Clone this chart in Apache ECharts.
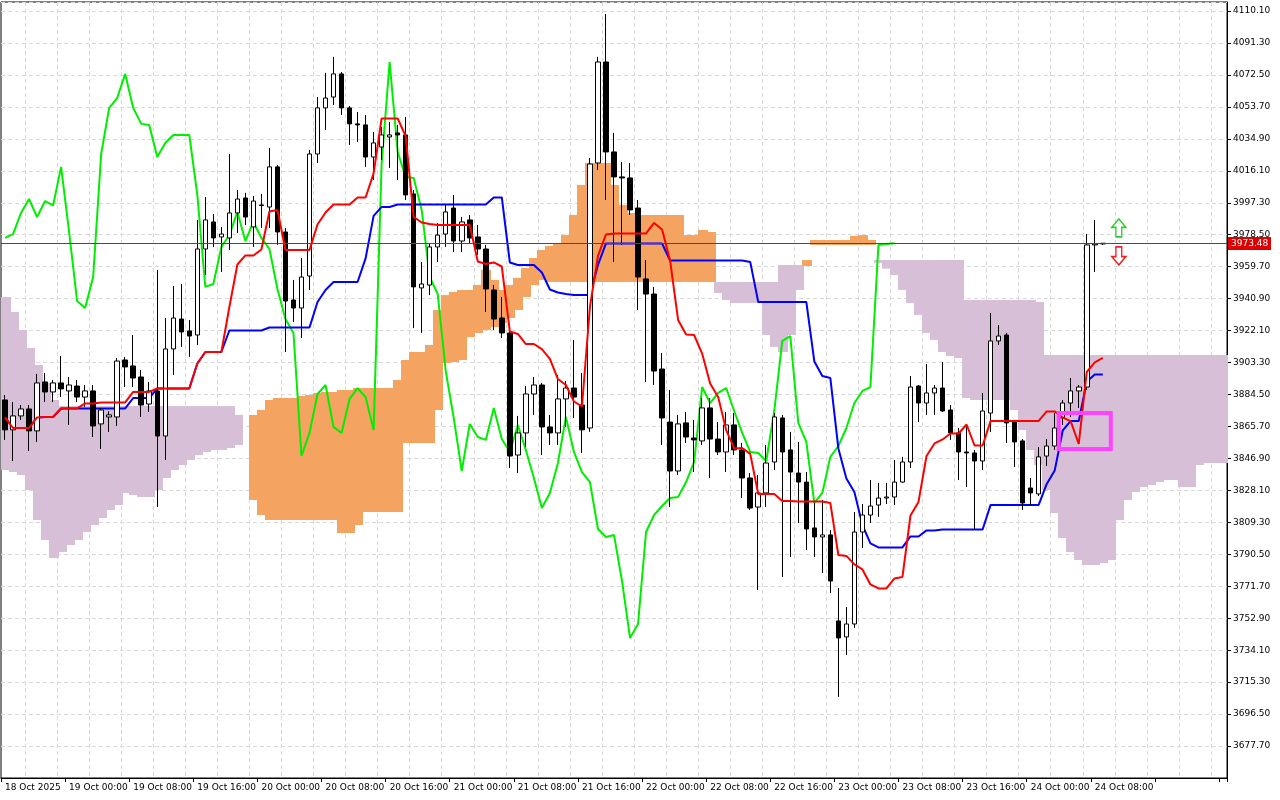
<!DOCTYPE html>
<html><head><meta charset="utf-8">
<script src="https://cdn.jsdelivr.net/npm/echarts@6/dist/echarts.min.js"></script>
<style>html,body{margin:0;padding:0;background:#fff}#c{width:1280px;height:800px}</style>
</head><body><div id="c"></div>
<script>
const tickLabels = ['18 Oct 2025','19 Oct 00:00','19 Oct 08:00','19 Oct 16:00','20 Oct 00:00','20 Oct 08:00','20 Oct 16:00','21 Oct 00:00','21 Oct 08:00','21 Oct 16:00','22 Oct 00:00','22 Oct 08:00','22 Oct 16:00','23 Oct 00:00','23 Oct 08:00','23 Oct 16:00','24 Oct 00:00','24 Oct 08:00'];
const opens = [3881.3,3863.7,3871.9,3876.0,3863.1,3891.9,3886.0,3891.3,3886.6,3889.5,
3883.0,3886.6,3867.2,3871.3,3871.3,3904.8,3901.3,3894.8,3878.9,3886.6,
3860.1,3911.3,3928.9,3921.9,3919.5,3970.1,3986.0,3977.2,3976.6,3991.3,
4000.1,3983.1,3996.0,3994.8,4018.4,3980.1,3940.1,3935.4,3954.2,4026.0,
4053.1,4059.5,4073.1,4053.1,4043.7,4043.1,4024.2,4030.1,4036.0,4038.4,
4037.2,4002.5,3947.2,3948.9,3971.3,3978.9,3994.2,3974.8,3987.2,3977.2,
3970.1,3946.0,3929.5,3920.7,3848.9,3861.9,3884.8,3890.1,3865.4,3861.9,
3881.9,3888.3,3878.3,3864.8,4020.7,4080.1,4027.2,4012.5,4011.9,3994.2,
3952.5,3943.6,3899.5,3868.3,3839.5,3867.8,3858.9,3857.2,3876.6,3858.3,
3850.7,3866.6,3851.9,3835.4,3818.3,3826.6,3844.8,3870.7,3851.9,3838.3,
3833.0,3806.0,3800.7,3801.9,3751.3,3741.9,3749.5,3803.6,3813.6,3819.5,
3823.6,3824.2,3833.0,3844.8,3889.5,3879.5,3885.4,3888.3,3875.4,3861.9,
3850.7,3850.1,3845.4,3873.6,3916.0,3919.5,3868.3,3857.2,3829.5,3826.0,
3848.3,3854.2,3870.7,3879.5,3886.6,3888.9,3972.5,3973.1];
const closes = [3863.7,3871.9,3876.0,3863.1,3891.3,3886.0,3891.3,3887.8,3890.1,3883.0,
3886.6,3866.0,3875.4,3872.5,3904.2,3900.7,3894.2,3878.3,3886.6,3860.1,
3911.3,3929.5,3921.3,3918.9,3970.1,3987.2,3976.6,3978.9,3991.3,3999.5,
3988.9,3998.3,3995.7,4018.4,3980.1,3939.5,3935.4,3953.6,4026.0,4053.1,
4058.9,4073.1,4053.1,4043.7,4043.1,4024.2,4032.5,4037.2,4037.2,4037.2,
4001.9,3947.8,3949.5,3971.3,3978.3,3991.9,3974.8,3986.0,3976.6,3970.1,
3946.6,3928.9,3920.7,3848.3,3861.9,3884.8,3890.1,3865.4,3861.9,3881.9,
3888.3,3883.0,3863.7,4020.1,4080.1,4027.2,4012.5,4011.9,3993.1,3953.6,
3943.6,3898.3,3870.7,3839.5,3867.2,3859.5,3857.8,3876.6,3858.3,3850.7,
3866.6,3851.9,3835.4,3817.7,3826.6,3844.2,3871.3,3850.7,3838.9,3833.0,
3805.4,3800.7,3801.9,3774.8,3741.3,3749.5,3803.6,3813.6,3818.9,3823.6,
3824.2,3833.0,3844.8,3888.9,3879.5,3885.4,3888.3,3874.8,3861.9,3850.7,
3850.1,3845.4,3874.8,3916.0,3918.9,3867.8,3856.6,3820.7,3826.6,3847.8,
3854.2,3864.8,3879.5,3886.6,3888.9,3972.5,3973.1,3973.5];
const lows = [3857.8,3845.4,3869.5,3851.3,3856.6,3880.1,3880.1,3883.0,3866.6,3880.1,
3877.2,3859.5,3852.5,3862.5,3866.0,3888.9,3888.9,3871.3,3874.2,3818.3,
3846.0,3896.0,3912.5,3906.6,3913.6,3954.8,3971.3,3956.6,3969.5,3979.5,
3984.2,3971.3,3982.5,3982.5,3972.5,3909.5,3927.2,3917.7,3946.0,4020.7,
4040.1,4054.8,4048.9,4031.3,4033.1,4018.4,4010.7,4022.5,4017.8,4010.7,
3998.9,3923.6,3920.7,3943.0,3962.5,3971.3,3968.3,3968.3,3973.6,3966.6,
3933.0,3922.5,3917.7,3841.3,3838.3,3853.6,3872.5,3848.9,3854.8,3854.8,
3865.4,3870.7,3850.1,3862.5,4016.6,3998.9,3962.5,3972.5,3990.1,3934.2,
3891.9,3890.1,3854.8,3818.3,3837.2,3856.0,3838.9,3854.8,3835.4,3848.9,
3838.9,3848.9,3823.6,3816.6,3769.5,3818.3,3840.1,3777.1,3788.9,3808.9,
3793.0,3788.9,3779.5,3767.7,3706.6,3731.3,3747.2,3794.2,3808.9,3812.5,
3820.1,3819.5,3832.5,3841.3,3868.3,3872.5,3872.5,3874.2,3857.8,3834.2,
3830.1,3805.4,3840.1,3862.5,3913.6,3856.0,3841.9,3816.6,3819.5,3824.8,
3842.5,3851.9,3866.6,3871.3,3876.6,3887.2,3956.6,3972.5];
const highs = [3884.2,3880.1,3878.3,3878.3,3896.6,3897.2,3893.0,3907.2,3894.8,3893.0,
3890.1,3890.1,3876.6,3874.6,3906.0,3906.6,3919.5,3898.9,3891.9,3957.8,
3929.5,3948.3,3949.5,3928.3,3987.2,4000.7,3990.7,3983.1,4026.0,4004.8,
4003.1,4001.3,4002.5,4029.5,4019.5,3982.5,3951.9,3964.8,4028.4,4059.5,
4073.7,4083.1,4074.2,4054.2,4050.7,4048.9,4038.9,4041.9,4044.8,4043.1,
4047.8,4004.8,3962.5,3973.6,3985.4,3996.0,4001.9,3988.9,3990.1,3984.2,
3972.5,3948.9,3941.9,3922.5,3871.9,3889.5,3894.8,3891.3,3872.5,3896.0,
3892.5,3916.6,3897.2,4023.6,4083.1,4108.4,4038.4,4021.3,4020.7,3998.9,
3963.6,3947.8,3908.9,3887.2,3872.5,3874.2,3869.5,3882.5,3882.5,3868.3,
3874.2,3873.6,3856.0,3838.3,3837.2,3854.8,3873.6,3872.5,3862.5,3856.6,
3838.9,3820.7,3822.5,3804.8,3770.7,3759.5,3815.4,3820.1,3834.2,3832.5,
3832.5,3846.0,3847.8,3895.4,3890.1,3902.5,3890.1,3903.6,3878.3,3864.8,
3866.6,3851.9,3885.4,3932.5,3925.4,3920.7,3869.5,3858.3,3835.4,3853.6,
3858.3,3873.6,3881.3,3894.2,3890.1,3978.9,3987.2,3973.6];
const spanA = [3840.1,3838.9,3837.2,3828.3,3810.7,3798.9,3788.3,3791.9,3796.0,3798.9,
3803.6,3807.7,3811.9,3816.6,3819.5,3826.6,3825.4,3824.2,3824.2,3828.3,
3835.4,3840.1,3843.0,3846.0,3848.9,3850.7,3851.9,3851.9,3853.0,3854.8,
3862.0,3872.5,3875.4,3881.3,3882.5,3882.5,3882.5,3883.6,3884.2,3885.4,
3886.0,3886.0,3887.2,3887.2,3888.3,3888.3,3888.3,3888.3,3888.3,3893.0,
3904.8,3909.5,3909.5,3913.6,3934.2,3943.0,3944.8,3946.0,3946.0,3948.9,
3957.8,3951.9,3946.0,3948.9,3953.1,3958.9,3964.8,3969.5,3971.9,3973.6,
3978.3,3990.1,4007.8,4020.7,4020.7,4020.7,4007.8,3996.0,3991.3,3990.1,
3990.1,3990.1,3990.1,3990.1,3990.1,3978.3,3978.3,3981.3,3980.1,3944.2,
3940.1,3938.3,3938.3,3938.3,3938.3,3919.5,3912.5,3909.5,3919.5,3946.0,
3963.6,3975.4,3975.4,3975.4,3975.4,3975.4,3977.8,3978.3,3975.4,3962.0,
3958.5,3954.8,3946.0,3938.3,3931.3,3920.7,3916.6,3909.5,3907.2,3906.0,
3882.5,3881.3,3881.3,3881.3,3881.3,3881.3,3875.4,3863.6,3851.9,3843.0,
3828.3,3814.8,3800.1,3791.9,3787.2,3784.2,3784.2,3785.4,3787.2,3810.7,
3822.5,3827.2,3830.1,3831.3,3833.0,3834.2,3834.2,3830.1,3830.1,3843.0,
3844.2,3844.2,3844.2];
const spanB = [3941.9,3933.0,3922.5,3911.9,3901.9,3891.3,3881.3,3877.7,3877.7,3877.7,
3877.7,3877.7,3877.7,3877.7,3877.7,3877.7,3877.7,3877.7,3877.7,3877.7,
3877.7,3877.7,3877.7,3877.7,3877.7,3877.7,3877.7,3877.7,3877.7,3872.5,
3862.0,3822.5,3813.6,3810.7,3810.7,3810.7,3810.7,3810.7,3810.7,3810.7,
3810.7,3810.7,3803.0,3803.0,3807.7,3815.4,3815.4,3815.4,3815.4,3815.4,
3856.0,3856.0,3856.0,3856.0,3875.4,3903.0,3903.6,3904.8,3918.3,3920.7,
3922.5,3924.2,3926.6,3929.5,3934.2,3941.9,3948.9,3951.9,3950.7,3950.7,
3950.7,3950.7,3950.7,3950.7,3950.7,3950.7,3950.7,3950.7,3950.7,3950.7,
3950.7,3950.7,3950.7,3950.7,3950.7,3950.7,3950.7,3950.7,3950.7,3950.7,
3950.7,3950.7,3950.7,3950.7,3950.7,3950.7,3950.7,3960.7,3960.7,3960.7,
3960.1,3972.5,3972.5,3972.5,3972.5,3972.5,3972.5,3972.5,3972.5,3963.6,
3963.6,3963.6,3963.6,3963.6,3963.6,3963.6,3963.6,3963.6,3963.6,3963.6,
3940.1,3940.1,3940.1,3940.1,3940.1,3940.1,3940.1,3940.1,3940.1,3938.9,
3907.8,3907.8,3907.8,3907.8,3907.8,3907.8,3907.8,3907.8,3907.8,3907.8,
3907.8,3907.8,3907.8,3907.8,3907.8,3907.8,3907.8,3907.8,3907.8,3907.8,
3907.8,3907.8,3907.8];
const lastPrice = 3973.48;
const boxBars = [132, 138];
const boxPrices = [3873.6, 3852.5];

const N = spanA.length;
const cats = [];
for (let i = 0; i < N; i++) cats.push(String(i));
function mid(i, p) {
  let hi = -Infinity, lo = Infinity;
  for (let k = Math.max(0, i - p + 1); k <= i; k++) { hi = Math.max(hi, highs[k]); lo = Math.min(lo, lows[k]); }
  return +((hi + lo) / 2).toFixed(2);
}
const tenkan = [], kijun = [], chikou = [];
for (let i = 0; i < N; i++) {
  tenkan.push(i < opens.length ? mid(i, 9) : null);
  kijun.push(i < opens.length ? mid(i, 26) : null);
  chikou.push(i + 26 < closes.length ? closes[i + 26] : null);
}
const candles = opens.map((o, i) => [o, closes[i], lows[i], highs[i]]);
const cloud = spanA.map((a, i) => [i, a, spanB[i]]);

const chart = echarts.init(document.getElementById('c'), null, {renderer: 'canvas'});
const arrowPath = 'path://M6,0 L12,7 L8.5,7 L8.5,15 L3.5,15 L3.5,7 L0,7 Z';
chart.setOption({
  animation: false,
  backgroundColor: '#fff',
  grid: {left: 1, right: 53, top: 2, bottom: 22, show: true, borderColor: '#000', borderWidth: 1},
  xAxis: {
    type: 'category', data: cats, boundaryGap: true,
    axisLine: {lineStyle: {color: '#000'}},
    axisTick: {show: true, interval: i => i % 8 === 0, length: 4, lineStyle: {color: '#000'}},
    axisLabel: {interval: i => i % 8 === 0, formatter: (v, i) => tickLabels[i / 8] || '', align: 'left', fontSize: 9, color: '#000', fontFamily: 'DejaVu Sans', margin: 5},
    splitLine: {show: true, interval: i => i % 4 === 3, lineStyle: {color: '#d9d9d9', type: [4, 3]}}
  },
  yAxis: {
    type: 'value', position: 'right', min: 3658.9, max: 4115.4, interval: 18.8, scale: true,
    axisLine: {show: true, lineStyle: {color: '#000'}},
    axisTick: {show: true, length: 4, lineStyle: {color: '#000'}},
    axisLabel: {showMinLabel: false, showMaxLabel: false, formatter: v => v.toFixed(2), fontSize: 9, color: '#000', fontFamily: 'DejaVu Sans', margin: 6},
    splitLine: {show: true, lineStyle: {color: '#d9d9d9', type: [4, 3]}}
  },
  series: [
    {
      type: 'custom', name: 'cloud', data: cloud, z: 1,
      renderItem: (params, api) => {
        const i = api.value(0), a = api.value(1), b = api.value(2);
        const pA = api.coord([i, a]), pB = api.coord([i, b]);
        const w = api.size([1, 0])[0];
        return {type: 'rect', shape: {x: Math.floor(pA[0] - w / 2), y: Math.min(pA[1], pB[1]), width: Math.ceil(w) + 1, height: Math.abs(pA[1] - pB[1])},
          style: {fill: a >= b ? '#F4A460' : '#D8BFD8', stroke: null}};
      }
    },
    {type: 'line', name: 'Chikou', data: chikou, symbol: 'none', z: 3, lineStyle: {color: '#00ee00', width: 2}},
    {type: 'line', name: 'Kijun', data: kijun, symbol: 'none', z: 3, lineStyle: {color: '#0000ff', width: 2}},
    {
      type: 'candlestick', name: 'price', data: candles, barWidth: 5, z: 4,
      itemStyle: {color: '#ffffff', color0: '#000000', borderColor: '#000000', borderColor0: '#000000', borderWidth: 1}
    },
    {type: 'line', name: 'Tenkan', data: tenkan, symbol: 'none', z: 5, color: '#ff0000', lineStyle: {color: '#ff0000', width: 2},
      markPoint: {
        silent: true, label: {show: false},
        data: [
          {coord: [139, 3982.5], symbol: arrowPath, symbolSize: [14, 18], itemStyle: {color: '#ffffff', borderColor: '#33cc33', borderWidth: 1.5}},
          {coord: [139, 3966.0], symbol: arrowPath, symbolRotate: 180, symbolSize: [14, 18], itemStyle: {color: '#ffffff', borderColor: '#ee2222', borderWidth: 1.5}}
        ]
      }
    },
    {
      type: 'custom', name: 'box', data: [[boxBars[0], boxPrices[0], boxBars[1], boxPrices[1]]], z: 6,
      renderItem: (params, api) => {
        const p1 = api.coord([api.value(0), api.value(1)]);
        const p2 = api.coord([api.value(2), api.value(3)]);
        return {type: 'rect', shape: {x: p1[0] - 4, y: p1[1], width: p2[0] - p1[0] + 4, height: p2[1] - p1[1]},
          style: {fill: null, stroke: '#ff44ff', lineWidth: 4}};
      }
    },
    {
      type: 'custom', name: 'priceLine', data: [[0, lastPrice]], z: 10, clip: false,
      renderItem: (params, api) => {
        const p = api.coord([api.value(0), api.value(1)]);
        const cs = params.coordSys;
        const y = Math.round(p[1]);
        return {type: 'group', children: [
          {type: 'rect', shape: {x: cs.x, y: y, width: cs.width, height: 1}, style: {fill: '#ff0000'}},
          {type: 'rect', shape: {x: cs.x + cs.width + 1, y: y - 6, width: 43, height: 13}, style: {fill: '#dd0000'}},
          {type: 'text', style: {x: cs.x + cs.width + 4, y: y + 0.5, text: lastPrice.toFixed(2), fill: '#fff', font: '9px DejaVu Sans', verticalAlign: 'middle'}}
        ]};
      }
    }
  ]
});
</script></body></html>
